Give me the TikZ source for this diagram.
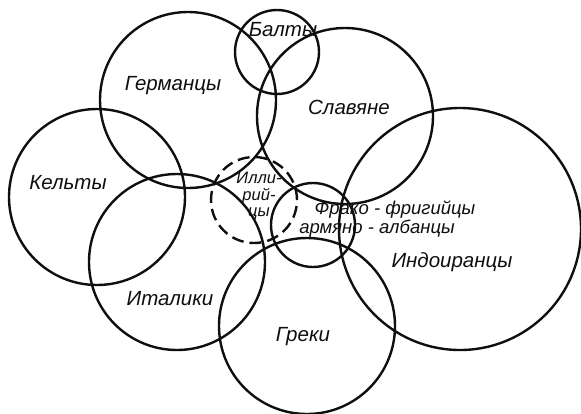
\documentclass[tikz,border=0pt]{standalone}
\usepackage{fontspec}
\setmainfont{Liberation Sans}
\usetikzlibrary{positioning}
\definecolor{inkblack}{RGB}{15,15,15}

\begin{document}
\begin{tikzpicture}[x=1pt, y=-1pt, every node/.style={font=\fontsize{20.5}{22}\selectfont\itshape, text=inkblack, inner sep=0pt}, ring/.style={draw=inkblack, line width=2.4pt}, dashring/.style={ring, dash pattern=on 12pt off 6pt}]
\useasboundingbox (0,0) rectangle (581,413);

% groups
\draw[ring] (277,52) circle (42pt);
\draw[ring] (188,100) circle (88pt);
\draw[ring] (345,116) circle (88pt);
\draw[ring] (97,197) circle (88pt);
\draw[ring] (177,262) circle (88pt);
\draw[ring] (307,326) circle (88pt);
\draw[ring] (460,229) circle (121pt);
\draw[ring] (313,225) circle (42pt);
\draw[dashring] (254,200) circle (43pt);

% names
\node (balty) at (283,30) {Балты};
\node (germ) at (173,86) {Германцы};
\node (slav) at (349,107) {Славяне};
\node (kelt) at (68,183) {Кельты};
\node (ital) at (170,299) {Италики};
\node (grek) at (303,337) {Греки};
\node (indo) at (452,262) {Индоиранцы};
\node[align=center, font=\fontsize{16.5}{16.5}\selectfont\itshape] (illyr) at (259,196) {Илли-\\рий-\\цы};
\node[font=\fontsize{18.5}{20}\selectfont\itshape] (thrak) at (395,210) {Фрако - фригийцы};
\node[font=\fontsize{18.5}{20}\selectfont\itshape] (arm) at (377,229) {армяно - албанцы};
\end{tikzpicture}
\end{document}
